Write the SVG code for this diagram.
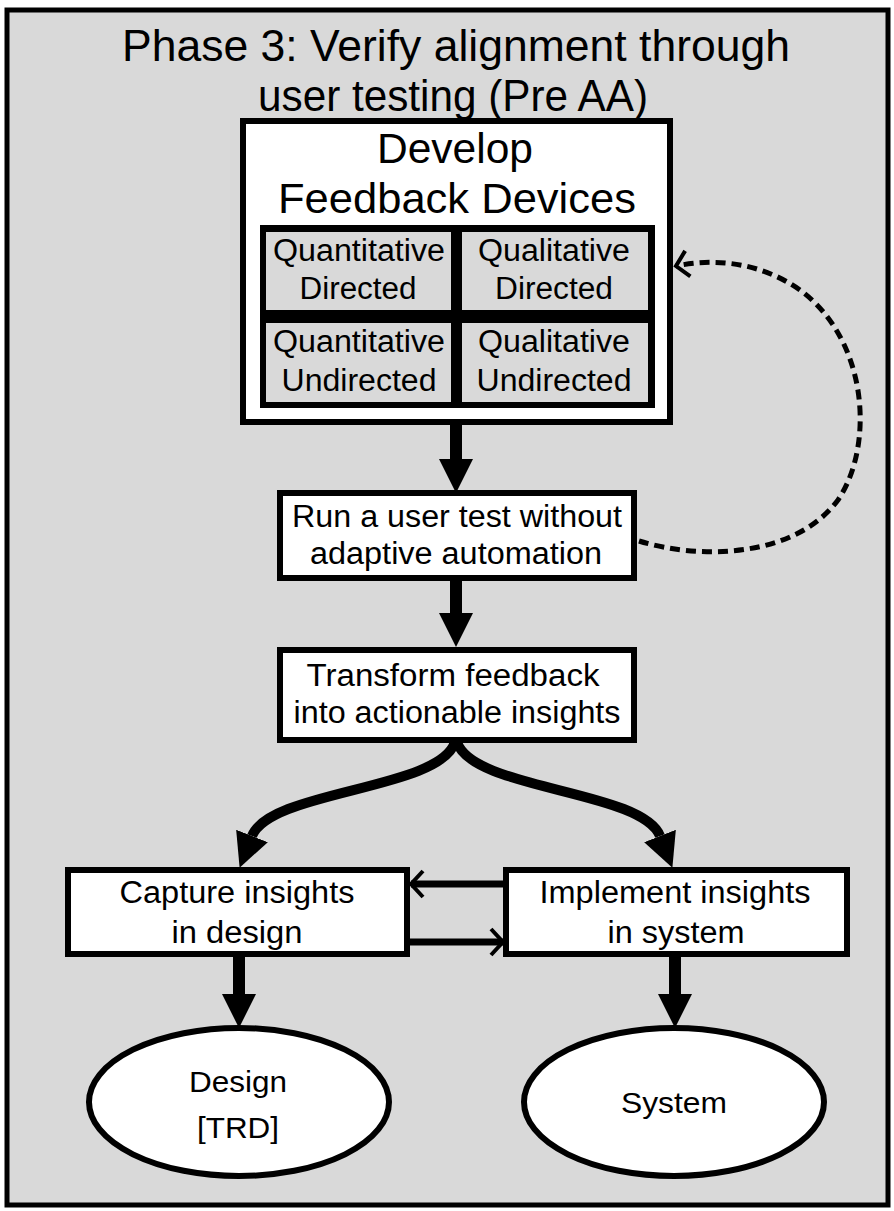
<svg xmlns="http://www.w3.org/2000/svg" width="894" height="1211" viewBox="0 0 894 1211">
  <style>
    .frame { fill: #d9d9d9; stroke: #000; stroke-width: 5; }
    .box { fill: #fff; stroke: #000; stroke-width: 6; }
    .cell { fill: #d9d9d9; }
    .t { font-family: "Liberation Sans", Arial, sans-serif; text-anchor: middle; fill: #000; }
    .title { font-size: 44px; }
    .big { font-size: 42px; }
    .mid { font-size: 31px; }
    .small { font-size: 30px; }
    .shaft { fill: none; stroke: #000; stroke-width: 12; }
    .fork { fill: none; stroke: #000; stroke-width: 10; }
    .swap { fill: none; stroke: #000; stroke-width: 7; }
    .loop { fill: none; stroke: #000; stroke-width: 5; stroke-dasharray: 10 6; }
  </style>
  <defs>
    <!-- solid triangular head; path ends at the base, tip lies 34px ahead -->
    <marker id="head" markerUnits="userSpaceOnUse" viewBox="0 -18 36 36" markerWidth="36" markerHeight="36" refX="0" refY="0" orient="auto">
      <path d="M0,-17 L34,0 L0,17 Z" fill="#000"/>
    </marker>
    <!-- open chevron head; tip at the path end -->
    <marker id="chev" markerUnits="userSpaceOnUse" viewBox="-16 -16 20 32" markerWidth="20" markerHeight="32" refX="0" refY="0" orient="auto">
      <path d="M-12,-13 L0,0 L-12,13" fill="none" stroke="#000" stroke-width="4"/>
    </marker>
  </defs>

  <rect width="894" height="1211" fill="#fff"/>
  <rect class="frame" x="7" y="10" width="881" height="1195"/>

  <g id="title">
    <text class="t title" x="456" y="61" textLength="668" lengthAdjust="spacingAndGlyphs">Phase 3:  Verify alignment through</text>
    <text class="t title" x="453" y="111" textLength="390" lengthAdjust="spacingAndGlyphs">user testing (Pre AA)</text>
  </g>

  <g id="connectors">
    <path class="shaft" d="M456,425 V459" marker-end="url(#head)"/>
    <path class="shaft" d="M456,581 V613" marker-end="url(#head)"/>
    <path class="fork" d="M455,742 C440,790 270,790 252,836" marker-end="url(#head)"/>
    <path class="fork" d="M457,742 C472,790 642,790 660,836" marker-end="url(#head)"/>
    <path class="swap" d="M504,884 H411" marker-end="url(#chev)"/>
    <path class="swap" d="M410,942 H503" marker-end="url(#chev)"/>
    <path class="shaft" d="M239,957 V994" marker-end="url(#head)"/>
    <path class="shaft" d="M675,957 V994" marker-end="url(#head)"/>
    <path class="loop" d="M639,541 C700,560 795,558 838,500 C875,445 868,340 800,290 C760,262 715,258 676,266" marker-end="url(#chev)"/>
  </g>

  <g id="develop">
    <rect class="box" x="243" y="121" width="427" height="301"/>
    <text class="t big" x="455" y="163" textLength="156" lengthAdjust="spacingAndGlyphs">Develop</text>
    <text class="t big" x="457" y="213" textLength="358" lengthAdjust="spacingAndGlyphs">Feedback Devices</text>
    <rect x="260" y="225" width="395" height="183" fill="#000"/>
    <rect class="cell" x="266" y="232" width="185" height="78"/>
    <rect class="cell" x="462" y="232" width="186" height="78"/>
    <rect class="cell" x="266" y="323" width="185" height="79"/>
    <rect class="cell" x="462" y="323" width="186" height="79"/>
    <text class="t mid" x="359" y="261" textLength="172" lengthAdjust="spacingAndGlyphs">Quantitative</text>
    <text class="t mid" x="358" y="299" textLength="117" lengthAdjust="spacingAndGlyphs">Directed</text>
    <text class="t mid" x="554" y="261" textLength="152" lengthAdjust="spacingAndGlyphs">Qualitative</text>
    <text class="t mid" x="554" y="299" textLength="118" lengthAdjust="spacingAndGlyphs">Directed</text>
    <text class="t mid" x="359" y="352" textLength="172" lengthAdjust="spacingAndGlyphs">Quantitative</text>
    <text class="t mid" x="359" y="391" textLength="155" lengthAdjust="spacingAndGlyphs">Undirected</text>
    <text class="t mid" x="554" y="352" textLength="152" lengthAdjust="spacingAndGlyphs">Qualitative</text>
    <text class="t mid" x="554" y="391" textLength="155" lengthAdjust="spacingAndGlyphs">Undirected</text>
  </g>

  <g id="run-test">
    <rect class="box" x="280" y="493" width="354" height="85"/>
    <text class="t mid" x="457" y="527" textLength="330" lengthAdjust="spacingAndGlyphs">Run a user test without</text>
    <text class="t mid" x="456" y="564" textLength="292" lengthAdjust="spacingAndGlyphs">adaptive automation</text>
  </g>

  <g id="transform">
    <rect class="box" x="280" y="650" width="354" height="90"/>
    <text class="t mid" x="453" y="686" textLength="293" lengthAdjust="spacingAndGlyphs">Transform feedback</text>
    <text class="t mid" x="457" y="723" textLength="327" lengthAdjust="spacingAndGlyphs">into actionable insights</text>
  </g>

  <g id="capture">
    <rect class="box" x="68" y="870" width="339" height="84"/>
    <text class="t mid" x="237" y="903" textLength="235" lengthAdjust="spacingAndGlyphs">Capture insights</text>
    <text class="t mid" x="237" y="943" textLength="131" lengthAdjust="spacingAndGlyphs">in design</text>
  </g>

  <g id="implement">
    <rect class="box" x="506" y="870" width="341" height="84"/>
    <text class="t mid" x="675" y="903" textLength="271" lengthAdjust="spacingAndGlyphs">Implement insights</text>
    <text class="t mid" x="676" y="943" textLength="137" lengthAdjust="spacingAndGlyphs">in system</text>
  </g>

  <g id="design">
    <ellipse class="box" cx="239" cy="1102" rx="150" ry="74"/>
    <text class="t small" x="238" y="1092" textLength="98" lengthAdjust="spacingAndGlyphs">Design</text>
    <text class="t small" x="238" y="1138" textLength="82" lengthAdjust="spacingAndGlyphs">[TRD]</text>
  </g>

  <g id="system">
    <ellipse class="box" cx="674" cy="1102" rx="150" ry="74"/>
    <text class="t small" x="674" y="1113" textLength="106" lengthAdjust="spacingAndGlyphs">System</text>
  </g>
</svg>
